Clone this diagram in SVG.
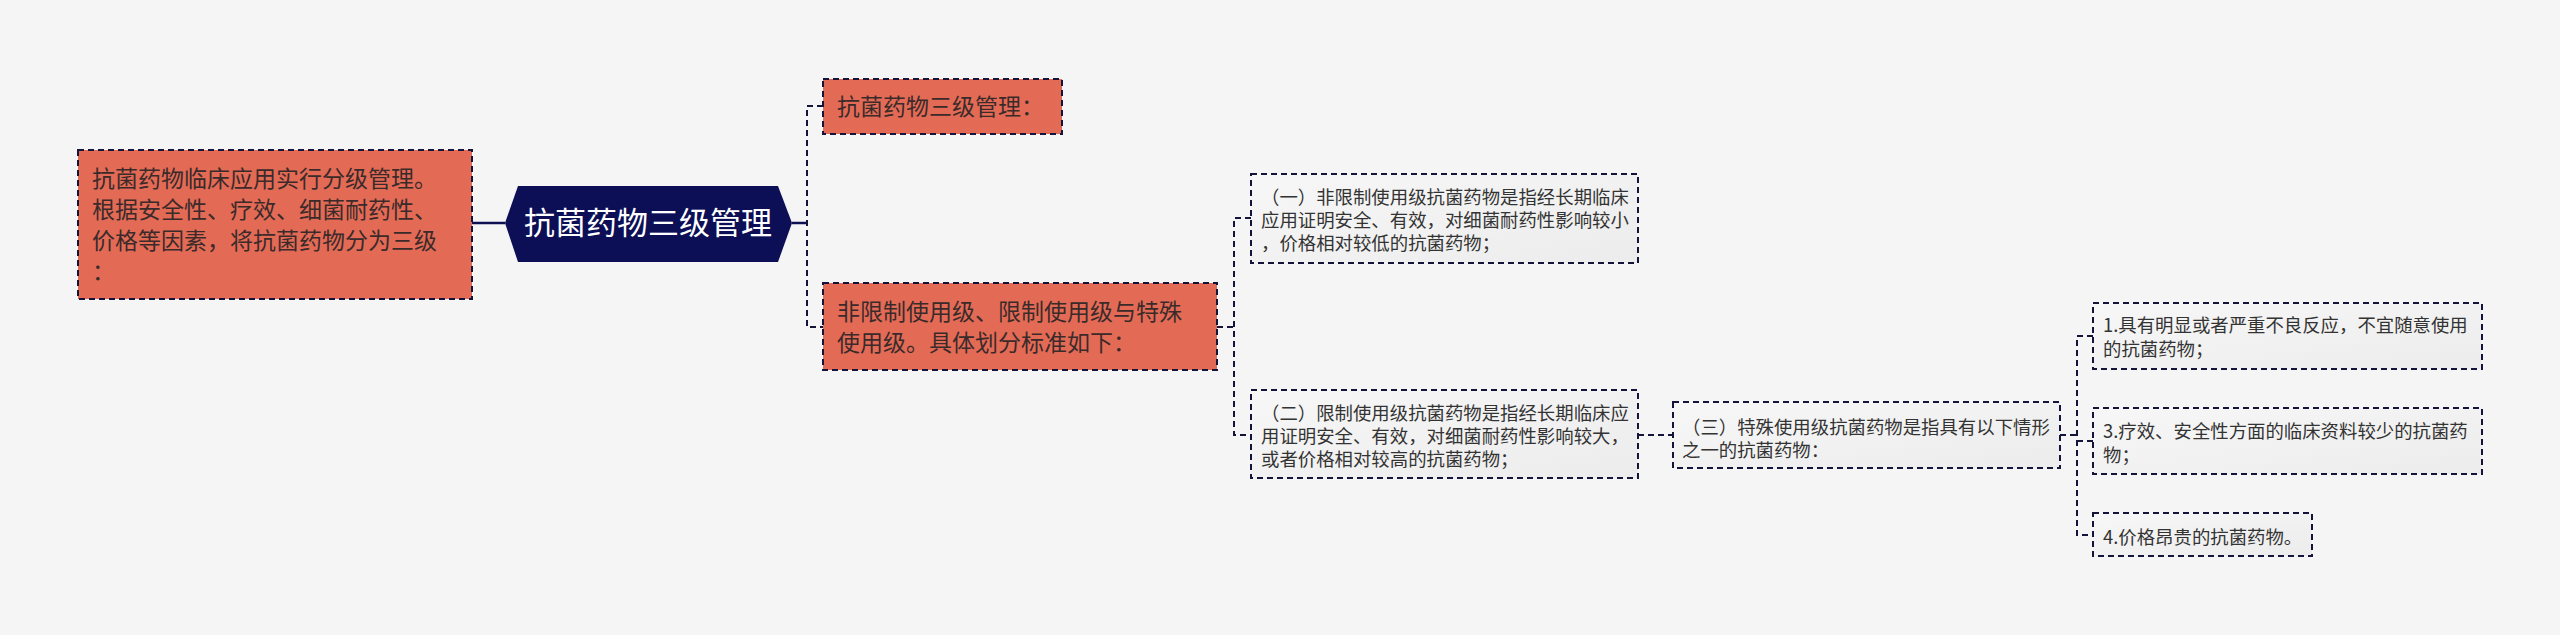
<svg xmlns="http://www.w3.org/2000/svg" width="2560" height="635" viewBox="0 0 2560 635">
<defs>
<linearGradient id="lg" x1="0" y1="0" x2="1" y2="1">
<stop offset="0" stop-color="#f7f7f7"/>
<stop offset="1" stop-color="#ececec"/>
</linearGradient>
</defs>
<style>
text{font-family:"Noto Sans CJK SC","Noto Sans",sans-serif;}
.coral{fill:#e36b56;stroke:#14143a;stroke-width:2;stroke-dasharray:6 4;}
.light{fill:url(#lg);stroke:#14143a;stroke-width:2;stroke-dasharray:6 4;}
.t23{font-size:23px;fill:#3b2a2a;}
.t18{font-size:18.4px;fill:#333333;}
.dash{fill:none;stroke:#14143a;stroke-width:2;stroke-dasharray:6 4;}
.solid{fill:none;stroke:#0d1052;stroke-width:2.5;}
</style>
<rect width="2560" height="635" fill="#f5f5f5"/>
<g id="connectors">
<path class="solid" d="M472,223 H505"/>
<path class="solid" d="M792,223 H807"/>
<path class="dash" d="M823,106 H807 V327 H823"/>
<path class="dash" d="M1217,327 H1234"/>
<path class="dash" d="M1251,218 H1234 V435 H1251"/>
<path class="dash" d="M1638,435 H1673"/>
<path class="dash" d="M2060,435 H2077"/>
<path class="dash" d="M2093,336 H2077 V535 H2093"/>
<path class="dash" d="M2077,441 H2093"/>
</g>
<g id="n-left">
<rect class="coral" x="78" y="150" width="394" height="149"/>
<text class="t23" x="92" y="187">抗菌药物临床应用实行分级管理。</text>
<text class="t23" x="92" y="218">根据安全性、疗效、细菌耐药性、</text>
<text class="t23" x="92" y="249">价格等因素，将抗菌药物分为三级</text>
<text class="t23" x="92" y="280">：</text>
</g>
<g id="n-root">
<polygon points="505,223 518,186 778,186 792,223 778,262 518,262" fill="#0c0f55"/>
<text x="648" y="234" font-size="31" fill="#ffffff" text-anchor="middle">抗菌药物三级管理</text>
</g>
<g id="n-top">
<rect class="coral" x="823" y="79" width="239" height="55"/>
<text class="t23" x="837" y="115">抗菌药物三级管理：</text>
</g>
<g id="n-classes">
<rect class="coral" x="823" y="283" width="394" height="87"/>
<text class="t23" x="837" y="320">非限制使用级、限制使用级与特殊</text>
<text class="t23" x="837" y="351">使用级。具体划分标准如下：</text>
</g>
<g id="n-1">
<rect class="light" x="1251" y="174" width="387" height="89"/>
<text class="t18" x="1261" y="203.5">（一）非限制使用级抗菌药物是指经长期临床</text>
<text class="t18" x="1261" y="226.5">应用证明安全、有效，对细菌耐药性影响较小</text>
<text class="t18" x="1261" y="249.5">，价格相对较低的抗菌药物；</text>
</g>
<g id="n-2">
<rect class="light" x="1251" y="390" width="387" height="88"/>
<text class="t18" x="1261" y="419.5">（二）限制使用级抗菌药物是指经长期临床应</text>
<text class="t18" x="1261" y="442.5">用证明安全、有效，对细菌耐药性影响较大，</text>
<text class="t18" x="1261" y="465.5">或者价格相对较高的抗菌药物；</text>
</g>
<g id="n-3">
<rect class="light" x="1673" y="402" width="387" height="66"/>
<text class="t18" x="1682" y="433.5">（三）特殊使用级抗菌药物是指具有以下情形</text>
<text class="t18" x="1682" y="456.5">之一的抗菌药物：</text>
</g>
<g id="n-3-1">
<rect class="light" x="2093" y="303" width="389" height="66"/>
<text class="t18" x="2103" y="331.5">1.具有明显或者严重不良反应，不宜随意使用</text>
<text class="t18" x="2103" y="355.5">的抗菌药物；</text>
</g>
<g id="n-3-3">
<rect class="light" x="2093" y="408" width="389" height="66"/>
<text class="t18" x="2103" y="437.5">3.疗效、安全性方面的临床资料较少的抗菌药</text>
<text class="t18" x="2103" y="461.5">物；</text>
</g>
<g id="n-3-4">
<rect class="light" x="2093" y="513" width="219" height="43"/>
<text class="t18" x="2103" y="543.5">4.价格昂贵的抗菌药物。</text>
</g>
</svg>
